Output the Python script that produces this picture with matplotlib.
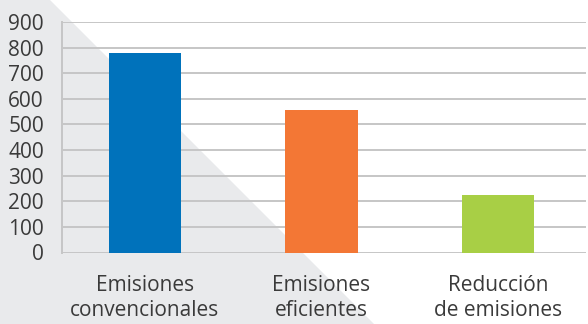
import matplotlib
matplotlib.use("Agg")
import matplotlib.pyplot as plt
from matplotlib.patches import Polygon

categories = ["Emisiones\nconvencionales", "Emisiones\neficientes", "Reducción\nde emisiones"]
values = [780, 557, 225]
colors = ["#0072bb", "#f37735", "#a8cf45"]
yticks = [0, 100, 200, 300, 400, 500, 600, 700, 800, 900]

plt.rcParams['font.family'] = ['Open Sans', 'DejaVu Sans']

fig = plt.figure(figsize=(5.88, 3.24), dpi=100)
fig.patch.set_facecolor("white")
W, H = 588, 324

# background gray diagonal triangle
bg = fig.add_axes([0, 0, 1, 1], zorder=-1)
bg.set_xlim(0, W)
bg.set_ylim(H, 0)
bg.axis("off")
bg.add_patch(Polygon([(0, 0), (50, 0), (50 + H, H), (0, H)], closed=True,
                     facecolor="#e9eaec", edgecolor="none"))

ax = fig.add_axes([62 / W, 1 - 252.5 / H, (586 - 62) / W, (252.5 - 22) / H], zorder=1)
ax.patch.set_alpha(0)

x = range(len(categories))
ax.bar(x, values, width=0.41, color=colors, zorder=3)

ax.set_xlim(-0.47, 2.5)
ax.set_ylim(0, 900)
ax.set_yticks(yticks)
ax.set_yticklabels([str(v) for v in yticks])
ax.set_xticks(list(x))
ax.set_xticklabels(categories, linespacing=1.25)

ax.yaxis.grid(True, color="#c6c6c6", linewidth=1.4, zorder=1)
ax.set_axisbelow(True)
for s in ["top", "right", "bottom"]:
    ax.spines[s].set_visible(False)
ax.spines["left"].set_color("#c6c6c6")
ax.spines["left"].set_linewidth(1.4)

ax.tick_params(axis="both", length=0, labelsize=15, labelcolor="#3a3a3a")
ax.tick_params(axis="y", pad=13)
ax.tick_params(axis="x", pad=16)

fig.savefig("out.png", dpi=100)
